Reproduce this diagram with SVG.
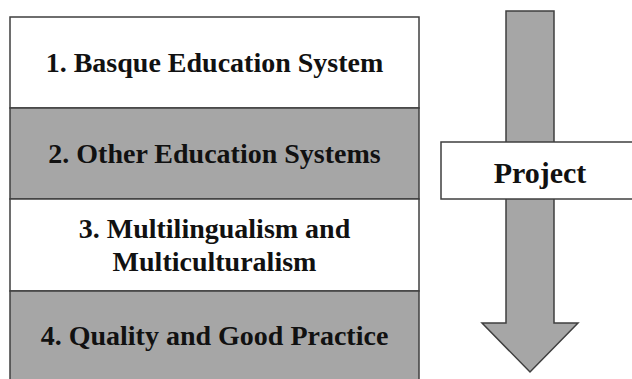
<svg xmlns="http://www.w3.org/2000/svg" width="632" height="379" viewBox="0 0 632 379">
  <style>
    .box { stroke: #3f3f3f; stroke-width: 1.5; }
    .white { fill: #ffffff; }
    .gray { fill: #a6a6a6; }
    .label { font-family: "Liberation Serif", "Times New Roman", serif; font-weight: bold; font-size: 28px; fill: #111111; text-anchor: middle; }
  </style>
  <rect x="0" y="0" width="632" height="379" fill="#ffffff"/>
  <g id="connectors">
    <polygon class="box gray" points="506,11 554,11 554,323 578,323 530,372 482,323 506,323"/>
  </g>
  <g id="node1">
    <rect class="box white" x="10" y="17" width="409" height="91"/>
    <text class="label" x="214.5" y="72">1. Basque Education System</text>
  </g>
  <g id="node2">
    <rect class="box gray" x="10" y="108" width="409" height="91"/>
    <text class="label" x="214.5" y="163">2. Other Education Systems</text>
  </g>
  <g id="node3">
    <rect class="box white" x="10" y="199" width="409" height="92"/>
    <text class="label" x="214.5" y="238">3. Multilingualism and</text>
    <text class="label" x="214.5" y="271">Multiculturalism</text>
  </g>
  <g id="node4">
    <rect class="box gray" x="10" y="291" width="409" height="92"/>
    <text class="label" x="214.5" y="345">4. Quality and Good Practice</text>
  </g>
  <g id="project">
    <rect class="box white" x="441" y="142" width="200" height="57"/>
    <text class="label" x="540" y="183" style="font-size:30px">Project</text>
  </g>
</svg>
